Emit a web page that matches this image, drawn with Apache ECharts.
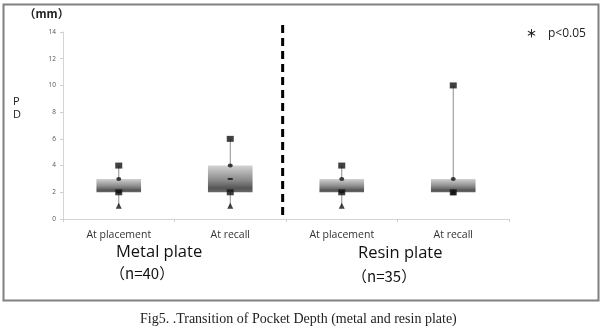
<!DOCTYPE html>
<html>
<head>
<meta charset="utf-8">
<script src="https://cdn.jsdelivr.net/npm/echarts@6/dist/echarts.min.js"></script>
<style>
  html, body { margin: 0; padding: 0; background: #fff; }
  #chart { width: 604px; height: 331px; }
</style>
</head>
<body>
<div id="chart"></div>
<script>
// Pocket depth (mm) per group, five-number summary
const categories = ['At placement', 'At recall', 'At placement', 'At recall'];
const minVals    = [1, 1, 1, 2];
const q1Vals     = [2, 2, 2, 2];
const medianVals = [2, 3, 2, 2];
const q3Vals     = [3, 4, 3, 3];
const maxVals    = [4, 6, 4, 10];
const yMin = 0, yMax = 14, yStep = 2;
const groupNames = ['Metal plate', 'Resin plate'];
const groupSizes = ['（n=40）', '（n=35）'];
// divider between the two plate groups: position on a 0..4 scale, bottom and top in mm
const divider = [1.97, 0.3, 14.9];

const chart = echarts.init(document.getElementById('chart'), null, { renderer: 'canvas' });

const boxData = categories.map((c, i) => [i, minVals[i], q1Vals[i], medianVals[i], q3Vals[i], maxVals[i]]);
const pts = arr => arr.map((v, i) => [i, v]);

const boxFill = new echarts.graphic.LinearGradient(0, 0, 0, 1, [
  { offset: 0, color: '#d2d2d2' },
  { offset: 0.55, color: '#8a8a8a' },
  { offset: 0.85, color: '#555555' },
  { offset: 1, color: '#6a6a6a' }
]);

const markerColor = '#111';

chart.setOption({
  animation: false,
  grid: { left: 63, right: 95, top: 32, bottom: 112 },
  xAxis: [{
    type: 'category',
    data: categories,
    axisLine: { lineStyle: { color: '#d4d4d4', width: 1 } },
    axisTick: { show: true, length: 3, lineStyle: { color: '#cfcfcf' } },
    axisLabel: { fontFamily: 'Open Sans', fontSize: 10.5, color: '#333', margin: 11 }
  }, {
    type: 'value', min: 0, max: 4, show: false
  }],
  yAxis: {
    type: 'value',
    min: yMin, max: yMax, interval: yStep,
    axisLine: { show: true, lineStyle: { color: '#d4d4d4', width: 1 } },
    axisTick: { show: true, length: 3, lineStyle: { color: '#cfcfcf' } },
    axisLabel: { fontFamily: 'Open Sans', fontSize: 6.5, color: '#555', margin: 7 },
    splitLine: { show: false }
  },
  series: [
    {
      type: 'custom',
      data: boxData,
      z: 2,
      renderItem: function (params, api) {
        const x = api.value(0);
        const lo = api.coord([x, api.value(1)]);
        const hi = api.coord([x, api.value(5)]);
        const q1 = api.coord([x, api.value(2)]);
        const q3 = api.coord([x, api.value(4)]);
        const w = api.size([1, 0])[0] * 0.4;
        return {
          type: 'group',
          children: [
            { type: 'line', shape: { x1: lo[0], y1: lo[1], x2: hi[0], y2: hi[1] },
              style: { stroke: '#8c8c8c', lineWidth: 1 } },
            { type: 'rect', shape: { x: q3[0] - w / 2, y: q3[1], width: w, height: q1[1] - q3[1] },
              style: { fill: boxFill } }
          ]
        };
      }
    },
    { type: 'scatter', data: pts(minVals), symbol: 'triangle', symbolSize: 6, z: 3,
      itemStyle: { color: markerColor } },
    { type: 'scatter', data: pts(q1Vals), symbol: 'rect', symbolSize: [7, 6], z: 4,
      itemStyle: { color: markerColor } },
    { type: 'scatter', data: pts(medianVals), symbol: 'rect', symbolSize: [5, 2], z: 4,
      itemStyle: { color: markerColor } },
    { type: 'scatter', data: pts(q3Vals), symbol: 'circle', symbolSize: [5, 4], z: 4,
      itemStyle: { color: markerColor } },
    { type: 'scatter', data: pts(maxVals), symbol: 'rect', symbolSize: [7, 6], z: 4,
      itemStyle: { color: markerColor } },
    {
      // dashed divider between the metal and resin groups
      type: 'custom', xAxisIndex: 1, clip: false, z: 5,
      data: [divider],
      renderItem: function (params, api) {
        const a = api.coord([api.value(0), api.value(1)]);
        const b = api.coord([api.value(0), api.value(2)]);
        return {
          type: 'line',
          shape: { x1: a[0], y1: a[1], x2: b[0], y2: b[1] },
          style: { stroke: '#000', lineWidth: 3, lineDash: [8, 5] }
        };
      }
    }
  ],
  graphic: [
    { type: 'rect', shape: { x: 3.5, y: 4.5, width: 595, height: 296 },
      style: { fill: 'none', stroke: '#808080', lineWidth: 2 }, z: 0 },
    { type: 'text', left: 24, top: 8, style: { text: '（mm）', font: 'bold 11.5px "Noto Sans CJK JP"', fill: '#222' } },
    { type: 'text', left: 13, top: 96, style: { text: 'P', font: '11px "Open Sans"', fill: '#222' } },
    { type: 'text', left: 13, top: 109, style: { text: 'D', font: '11px "Open Sans"', fill: '#222' } },
    { type: 'text', left: 526, top: 28, style: { text: '＊', font: 'bold 11px "Noto Sans CJK JP"', fill: '#222' } },
    { type: 'text', left: 548, top: 28, style: { text: 'p<0.05', font: '12px "Open Sans"', fill: '#222' } },
    { type: 'text', left: 116, top: 244, style: { text: groupNames[0], font: '16.5px "Open Sans"', fill: '#111' } },
    { type: 'text', left: 110, top: 266, style: { text: groupSizes[0], font: '15px "Noto Sans CJK JP"', fill: '#111' } },
    { type: 'text', left: 358, top: 245, style: { text: groupNames[1], font: '16.5px "Open Sans"', fill: '#111' } },
    { type: 'text', left: 352, top: 269, style: { text: groupSizes[1], font: '15px "Noto Sans CJK JP"', fill: '#111' } },
    { type: 'text', left: 140, top: 312, style: { text: 'Fig5. .Transition of Pocket Depth (metal and resin plate)', font: '14px "Liberation Serif"', fill: '#222' } }
  ]
});
</script>
</body>
</html>
